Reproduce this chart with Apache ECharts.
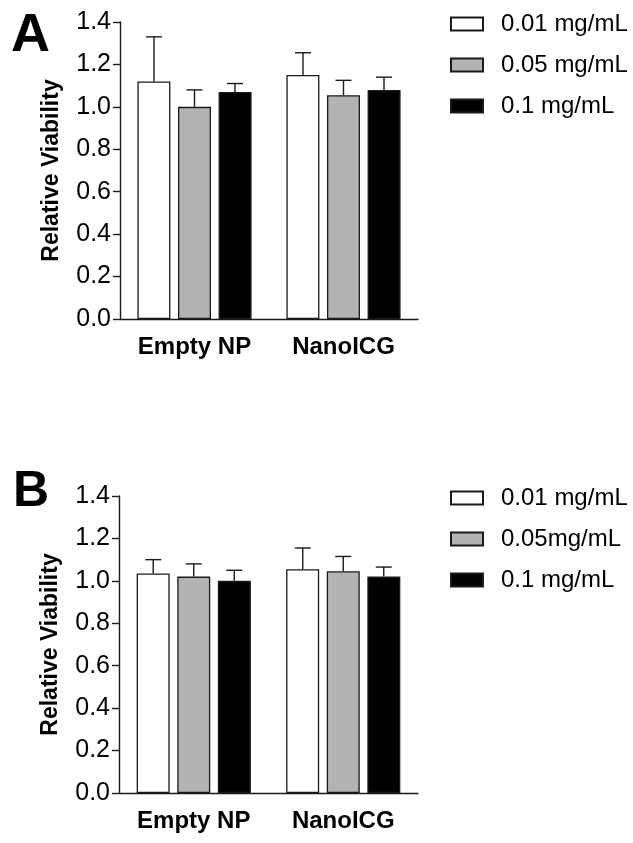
<!DOCTYPE html>
<html>
<head>
<meta charset="utf-8">
<script src="https://cdn.jsdelivr.net/npm/echarts@6/dist/echarts.min.js"></script>
<style>
html,body{margin:0;padding:0;background:#fff;}
#chart{width:633px;height:843px;}
</style>
</head>
<body>
<div id="chart"></div>
<script>
// ---- data ----
var categories = ['Empty NP', 'NanoICG'];
var yTicks = [0.0, 0.2, 0.4, 0.6, 0.8, 1.0, 1.2, 1.4];

var namesA = ['0.01 mg/mL', '0.05 mg/mL', '0.1 mg/mL'];
var a001 = [1.12, 1.15];
var a005 = [1.00, 1.055];
var a01  = [1.07, 1.08];
var a001Err = [0.21, 0.105];
var a005Err = [0.08, 0.07];
var a01Err  = [0.04, 0.06];

var namesB = ['0.01 mg/mL ', '0.05mg/mL', '0.1 mg/mL '];
var b001 = [1.035, 1.055];
var b005 = [1.02, 1.045];
var b01  = [1.00, 1.02];
var b001Err = [0.065, 0.10];
var b005Err = [0.06, 0.07];
var b01Err  = [0.05, 0.045];

// ---- styling ----
var FONT = 'Arial, "Liberation Sans", sans-serif';
var fills = ['#ffffff', '#b3b3b3', '#000000'];
var BAR_W = 33;
var BAR_STEP = 40.5;

var chart = echarts.init(document.getElementById('chart'), null, {renderer: 'canvas'});

function barSeries(name, data, idx, gi) {
  return {
    type: 'bar', name: name, data: data,
    xAxisIndex: gi, yAxisIndex: gi,
    barWidth: BAR_W, barGap: '23%',
    itemStyle: {color: fills[idx], borderColor: '#1a1a1a', borderWidth: 1.3},
    emphasis: {disabled: true},
    animation: false, z: 2
  };
}

function errSeries(vals, errs, idx, gi) {
  var data = vals.map(function (v, i) { return [i, v, v + errs[i]]; });
  return {
    type: 'custom', xAxisIndex: gi, yAxisIndex: gi, data: data,
    silent: true, animation: false, z: 3,
    renderItem: function (params, api) {
      var base = api.coord([api.value(0), api.value(1)]);
      var top = api.coord([api.value(0), api.value(2)]);
      var x = base[0] + (idx - 1) * BAR_STEP;
      var half = 8;
      var st = {stroke: '#1a1a1a', lineWidth: 1.4};
      return {
        type: 'group',
        children: [
          {type: 'line', shape: {x1: x, y1: base[1], x2: x, y2: top[1]}, style: st},
          {type: 'line', shape: {x1: x - half, y1: top[1], x2: x + half, y2: top[1]}, style: st}
        ]
      };
    }
  };
}

function xAxis(gi) {
  return {
    type: 'category', gridIndex: gi, data: categories,
    axisLine: {lineStyle: {color: '#1a1a1a', width: 1.4}},
    axisTick: {show: false},
    axisLabel: {fontFamily: FONT, fontWeight: 'bold', fontSize: 24, color: '#000', margin: 16}
  };
}
function yAxis(gi) {
  return {
    type: 'value', gridIndex: gi, min: yTicks[0], max: yTicks[yTicks.length - 1], interval: 0.2,
    splitLine: {show: false},
    axisLine: {show: true, lineStyle: {color: '#1a1a1a', width: 1.4}},
    axisTick: {show: true, length: 7, lineStyle: {color: '#1a1a1a', width: 1.4}},
    axisLabel: {fontFamily: FONT, fontSize: 25, color: '#000', margin: 9,
      formatter: function (v) { return v.toFixed(1); }},
    name: 'Relative Viability', nameLocation: 'middle', nameGap: 57,
    nameTextStyle: {fontFamily: FONT, fontWeight: 'bold', fontSize: 23, color: '#000'}
  };
}
function legend(names, top) {
  return {
    orient: 'vertical', left: 445, top: top,
    data: names, itemWidth: 32, itemHeight: 13, itemGap: 17,
    selectedMode: false, icon: 'rect',
    textStyle: {fontFamily: FONT, fontSize: 24, color: '#000', lineHeight: 24, padding: [0, 0, 0, 13]}
  };
}

var series = [
  barSeries(namesA[0], a001, 0, 0), barSeries(namesA[1], a005, 1, 0), barSeries(namesA[2], a01, 2, 0),
  errSeries(a001, a001Err, 0, 0), errSeries(a005, a005Err, 1, 0), errSeries(a01, a01Err, 2, 0),
  barSeries(namesB[0], b001, 0, 1), barSeries(namesB[1], b005, 1, 1), barSeries(namesB[2], b01, 2, 1),
  errSeries(b001, b001Err, 0, 1), errSeries(b005, b005Err, 1, 1), errSeries(b01, b01Err, 2, 1)
];

chart.setOption({
  animation: false,
  backgroundColor: '#ffffff',
  title: [
    {text: 'A', left: 6, top: 4, textStyle: {fontFamily: FONT, fontWeight: 'bold', fontSize: 54, color: '#000'}},
    {text: 'B', left: 8, top: 462, textStyle: {fontFamily: FONT, fontWeight: 'bold', fontSize: 50, color: '#000'}}
  ],
  grid: [
    {left: 120, right: 215, top: 22, bottom: 524},
    {left: 119, right: 215, top: 496, bottom: 50}
  ],
  xAxis: [xAxis(0), xAxis(1)],
  yAxis: [yAxis(0), yAxis(1)],
  legend: [legend(namesA, 7), legend(namesB, 481)],
  series: series
});
</script>
</body>
</html>
